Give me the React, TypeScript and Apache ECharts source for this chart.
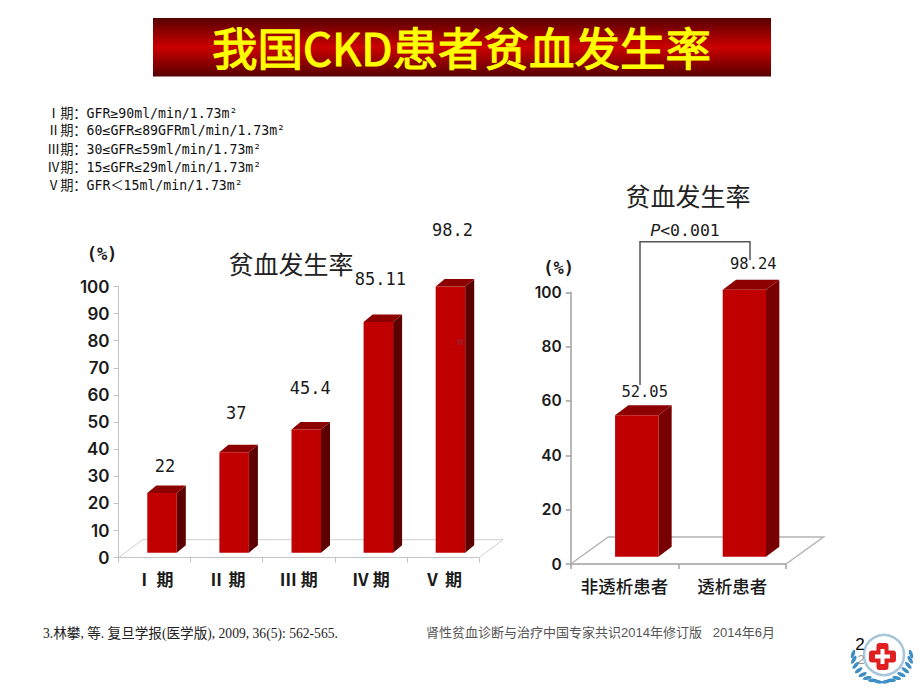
import React, { useEffect, useRef } from "react";
import * as echarts from "echarts";

const MAIN_TITLE = "我国CKD患者贫血发生率";
const CHART_TITLE = "贫血发生率";
const stageCategories = ["Ⅰ 期", "Ⅱ 期", "Ⅲ 期", "Ⅳ 期", "Ⅴ 期"];
const stageValues = [22, 37, 45.4, 85.11, 98.2];
const stageLabels = ["22", "37", "45.4", "85.11", "98.2"];
const stageTicks = 10;
const stageLabelShift = [[3, -27], [2, -39], [4, -42], [2, -43], [2, -56]];
const dialysisCategories = ["非透析患者", "透析患者"];
const dialysisValues = [52.05, 98.24];
const dialysisLabels = ["52.05", "98.24"];
const dialysisTicks = 20;
const dialysisLabelShift = [[8, -23], [9, -26]];
const legendLines = [
  "Ⅰ期：GFR≥90ml/min/1.73m²",
  "Ⅱ期：60≤GFR≤89GFRml/min/1.73m²",
  "Ⅲ期：30≤GFR≤59ml/min/1.73m²",
  "Ⅳ期：15≤GFR≤29ml/min/1.73m²",
  "Ⅴ期：GFR＜15ml/min/1.73m²",
];
const legendY = [113, 130.5, 149, 167.5, 185.5];
const REF_LEFT = "3.林攀, 等. 复旦学报(医学版), 2009, 36(5): 562-565.";
const REF_RIGHT = "肾性贫血诊断与治疗中国专家共识2014年修订版   2014年6月";

const CJK = '"Noto Sans CJK SC"';
const MONO = '"DejaVu Sans Mono", "Noto Sans CJK SC"';
const AX = 'Inter, "Liberation Sans", "Noto Sans CJK SC"';

type Geo = {
  barW: number; shiftX: number; lift: number; dx: number; dy: number;
  side: string; labels: string[]; shift: number[][]; font: string;
};

const barRenderer = (g: Geo) => (_p: any, api: any) => {
  const i = api.value(0);
  const v = api.value(1);
  const base = api.coord([i, 0]);
  const top = api.coord([i, v]);
  const x = base[0] + g.shiftX - g.barW / 2;
  const yB = base[1] - g.lift;
  const yT = top[1] - g.lift;
  const r = x + g.barW;
  return {
    type: "group",
    children: [
      { type: "polygon", shape: { points: [[r, yT], [r + g.dx, yT - g.dy], [r + g.dx, yB - g.dy], [r, yB]] }, style: { fill: g.side } },
      { type: "polygon", shape: { points: [[x, yT], [x + g.dx, yT - g.dy], [r + g.dx, yT - g.dy], [r, yT]] }, style: { fill: "#8c0000" } },
      { type: "rect", shape: { x, y: yT, width: g.barW, height: yB - yT }, style: { fill: "#c00000" } },
      {
        type: "text",
        style: {
          text: g.labels[i],
          x: x + g.barW / 2 + g.shift[i][0],
          y: yT + g.shift[i][1],
          align: "center",
          verticalAlign: "middle",
          fill: "#1a1a1a",
          font: g.font,
        },
      },
    ],
  };
};

const floorRenderer = (dx: number, dy: number, color: string, w: number) => (p: any) => {
  const c = p.coordSys;
  const b = c.y + c.height;
  const R = c.x + c.width;
  return {
    type: "polyline",
    shape: { points: [[c.x, b], [c.x + dx, b - dy], [R + dx, b - dy], [R, b]] },
    style: { fill: "none", stroke: color, lineWidth: w },
  };
};

const xAxis = (gridIndex: number, data: string[], color: string, w: number, font: number, margin: number, weight: any) => ({
  type: "category",
  gridIndex,
  data,
  axisLine: { lineStyle: { color, width: w } },
  axisTick: { show: true, length: 5, lineStyle: { color, width: w } },
  axisLabel: { color: "#1a1a1a", fontFamily: CJK, fontWeight: weight, fontSize: font, margin, interval: 0 },
});

const yAxis = (gridIndex: number, step: number, color: string, w: number, font: number, pad: number, gap: number) => ({
  type: "value",
  gridIndex,
  min: 0,
  max: 100,
  interval: step,
  name: "(%)",
  nameLocation: "end",
  nameGap: gap,
  nameTextStyle: { color: "#1a1a1a", fontFamily: MONO, fontWeight: "bold", fontSize: 17, align: "center", verticalAlign: "middle", padding: [0, pad, 0, 0] },
  splitLine: { show: false },
  axisLine: { show: true, lineStyle: { color, width: w } },
  axisTick: { show: true, length: 5, lineStyle: { color, width: w } },
  axisLabel: { color: "#1a1a1a", fontFamily: AX, fontWeight: 600, fontSize: font, margin: 9 },
});

function leaves() {
  const out: any[] = [];
  for (const side of [-1, 1]) {
    for (let k = 0; k < 8; k++) {
      const a = (2 + k * 11.5) * Math.PI / 180;
      const cx = 882 + side * 29 * Math.cos(a);
      const cy = 653 + 29 * Math.sin(a);
      out.push({
        type: "ellipse",
        silent: true,
        shape: { cx: 0, cy: 0, rx: 1.8, ry: 4.5 },
        x: cx, y: cy,
        rotation: side * (a + 0.3),
        style: { fill: "#3f8fc4" },
      });
    }
  }
  return out;
}

export default function App() {
  const ref = useRef<HTMLDivElement>(null);
  useEffect(() => {
    const chart = echarts.init(ref.current!, undefined, { renderer: "svg" });
    chart.setOption({
      animation: false,
      backgroundColor: "#ffffff",
      title: [
        { text: MAIN_TITLE, left: 461.5, top: 20, padding: 0, textAlign: "center", textStyle: { color: "#ffff00", fontFamily: CJK, fontWeight: "normal", fontSize: 45.5, lineHeight: 52, textBorderColor: "#ffff00", textBorderWidth: 1.2 } },
        { text: CHART_TITLE, left: 291, top: 249, padding: 0, textAlign: "center", textStyle: { color: "#222", fontFamily: CJK, fontWeight: "normal", fontSize: 25, lineHeight: 28 } },
        { text: CHART_TITLE, left: 688, top: 181, padding: 0, textAlign: "center", textStyle: { color: "#222", fontFamily: CJK, fontWeight: "normal", fontSize: 25, lineHeight: 28 } },
      ],
      grid: [
        { left: 118.5, top: 286.5, width: 360.5, height: 271.2 },
        { left: 570.7, top: 292.3, width: 215.3, height: 271.7 },
      ],
      xAxis: [
        xAxis(0, stageCategories, "#c4c4c4", 1, 17, 12, "bold"),
        xAxis(1, dialysisCategories, "#a0a0a0", 1.5, 17.5, 13, 500),
      ],
      yAxis: [
        yAxis(0, stageTicks, "#c4c4c4", 1, 17, 33, 33),
        yAxis(1, dialysisTicks, "#a0a0a0", 1.5, 15.5, 24, 24),
      ],
      series: [
        { type: "custom", xAxisIndex: 0, yAxisIndex: 0, data: [[0, 0]], z: 1, silent: true, renderItem: floorRenderer(24, 18, "#cfcfcf", 1) },
        { type: "custom", xAxisIndex: 1, yAxisIndex: 1, data: [[0, 0]], z: 1, silent: true, renderItem: floorRenderer(37.5, 27, "#b4b4b4", 1.5) },
        {
          type: "custom", xAxisIndex: 0, yAxisIndex: 0, z: 3, silent: true,
          encode: { x: 0, y: 1 },
          data: stageValues.map((v, i) => [i, v]),
          renderItem: barRenderer({ barW: 29.5, shiftX: 7.5, lift: 5, dx: 9, dy: 7.5, side: "#5c0000", labels: stageLabels, shift: stageLabelShift, font: `17px ${MONO}` }),
        },
        {
          type: "custom", xAxisIndex: 1, yAxisIndex: 1, z: 3, silent: true,
          encode: { x: 0, y: 1 },
          data: dialysisValues.map((v, i) => [i, v]),
          renderItem: barRenderer({ barW: 43.3, shiftX: 12.2, lift: 7.3, dx: 13.3, dy: 10, side: "#780000", labels: dialysisLabels, shift: dialysisLabelShift, font: `15.5px ${MONO}` }),
        },
      ],
      graphic: [
        {
          type: "rect", z: 0, silent: true,
          shape: { x: 153, y: 18, width: 618, height: 58.5 },
          style: {
            fill: new echarts.graphic.LinearGradient(0, 0, 0, 1, [
              { offset: 0, color: "#560000" },
              { offset: 0.5, color: "#cc0000" },
              { offset: 1, color: "#560000" },
            ]),
          },
        },
        ...legendLines.map((text, i) => ({
          type: "text", silent: true,
          style: { text, x: 47, y: legendY[i], align: "left", verticalAlign: "middle", fill: "#111", font: `13.2px ${MONO}` },
        })),
        {
          type: "polyline", silent: true, z: 5,
          shape: { points: [[640, 385], [640, 241.7], [750, 241.7], [750, 260]] },
          style: { fill: "none", stroke: "#555", lineWidth: 1.5 },
        },
        {
          type: "text", silent: true, z: 6,
          style: {
            text: "{i|P}{n|<0.001}", x: 685, y: 230, align: "center", verticalAlign: "middle",
            rich: {
              i: { font: `italic 16.5px "DejaVu Sans"`, fill: "#1a1a1a" },
              n: { font: `16.5px ${MONO}`, fill: "#1a1a1a" },
            },
          },
        },
        { type: "rect", silent: true, z: 6, shape: { x: 457, y: 339, width: 6, height: 6 }, style: { fill: "#a8141e" } },
        {
          type: "text", silent: true,
          style: { text: REF_LEFT, x: 43, y: 633, align: "left", verticalAlign: "middle", fill: "#222", font: `13.6px "Liberation Serif", ${CJK}` },
        },
        {
          type: "text", silent: true,
          style: { text: REF_RIGHT, x: 426, y: 632, align: "left", verticalAlign: "middle", fill: "#555", font: `13px "Liberation Sans", ${CJK}` },
        },
        ...leaves(),
        { type: "circle", silent: true, shape: { cx: 884, cy: 655, r: 20 }, style: { fill: "#fff", stroke: "#a8c6dc", lineWidth: 2.5 } },
        { type: "rect", silent: true, shape: { x: 876.5, y: 643, width: 12, height: 27, r: 3 }, style: { fill: "#e02020" } },
        { type: "rect", silent: true, shape: { x: 869, y: 650.5, width: 27, height: 12, r: 3 }, style: { fill: "#e02020" } },
        { type: "rect", silent: true, shape: { x: 880.5, y: 649, width: 4, height: 15 }, style: { fill: "#fff" } },
        { type: "rect", silent: true, shape: { x: 875, y: 654.5, width: 15, height: 4 }, style: { fill: "#fff" } },
        {
          type: "text", silent: true, z: 7,
          style: { text: "2", x: 860, y: 644, align: "center", verticalAlign: "middle", fill: "#000", font: `17px "Liberation Sans"` },
        },
        {
          type: "text", silent: true, z: 7,
          style: { text: "2", x: 861, y: 659.5, align: "center", verticalAlign: "middle", fill: "#999", font: `13px "Liberation Sans"` },
        },
      ],
    });
    return () => chart.dispose();
  }, []);
  return <div ref={ref} style={{ position: "absolute", left: 0, top: 0, width: 920, height: 690 }} />;
}
